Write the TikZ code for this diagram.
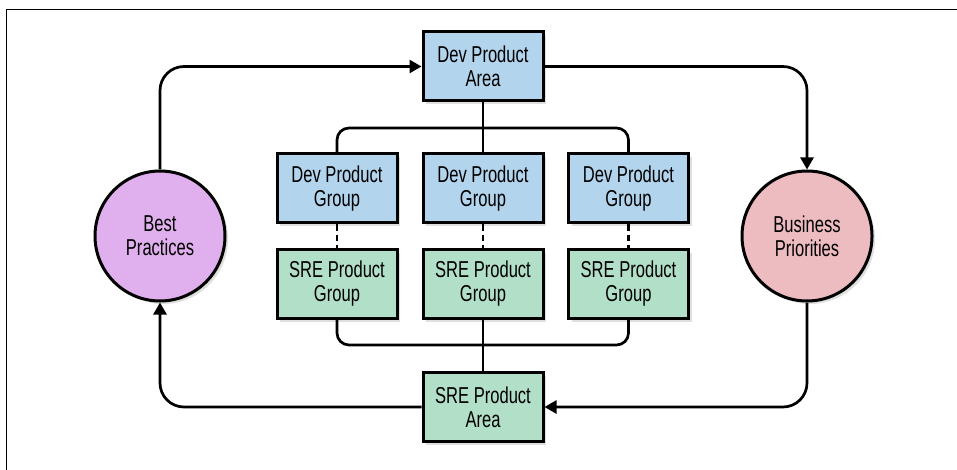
\documentclass[tikz,border=0pt]{standalone}
\usepackage{fontspec}
\newfontfamily\narrowfont{Liberation Sans}[FakeStretch=0.72]
\usetikzlibrary{arrows.meta,shadows}

\definecolor{devblue}{RGB}{178,212,236}
\definecolor{sregreen}{RGB}{178,223,200}
\definecolor{bestpurple}{RGB}{224,176,238}
\definecolor{bizpink}{RGB}{237,188,193}

\begin{document}
\begin{tikzpicture}[
  x=1pt, y=-1pt,
  box/.style={
    draw, line width=3pt, minimum width=120pt, minimum height=69pt,
    inner sep=0pt, align=center,
    font=\narrowfont\fontsize{23}{24}\selectfont,
    drop shadow={shadow xshift=3pt, shadow yshift=-3pt, opacity=0.25},
  },
  devbox/.style={box, fill=devblue},
  srebox/.style={box, fill=sregreen},
  bubble/.style={
    circle, draw, line width=3pt, minimum size=130pt, inner sep=0pt,
    align=center, font=\narrowfont\fontsize{23}{24}\selectfont,
    drop shadow={shadow xshift=3pt, shadow yshift=-3pt, opacity=0.25},
  },
  flow/.style={line width=2.7pt, rounded corners=24pt,
    -{Triangle[length=12pt,width=13pt]}},
  bus/.style={line width=2.7pt, rounded corners=12pt},
  link/.style={line width=2.7pt, dash pattern=on 6pt off 4pt},
]

% frame and canvas
\useasboundingbox (0,0) rectangle (957,470);
\draw[line width=1pt] (6,470) -- (6,9.5) -- (957,9.5);

% the two areas
\node[devbox] (devarea) at (483,66.5) {Dev Product\\Area};
\node[srebox] (srearea) at (483,407) {SRE Product\\Area};

% the loop ends
\node[bubble, fill=bestpurple] (best) at (160,236) {Best\\Practices};
\node[bubble, fill=bizpink]    (biz)  at (807,236) {Business\\Priorities};

% groups, dev over sre
\foreach \i/\x in {1/337,2/483,3/628.5} {
  \node[devbox] (dev\i) at (\x,188.5) {Dev Product\\Group};
  \node[srebox] (sre\i) at (\x,284)   {SRE Product\\Group};
  \draw[link] (dev\i) -- (sre\i);
}

% buses
\coordinate (topbus) at (483,128);
\coordinate (botbus) at (483,345);
\draw[bus] (dev1.north) |- (topbus) -| (dev3.north);
\draw[bus] (devarea.south) -- (dev2.north);
\draw[bus] (sre1.south) |- (botbus) -| (sre3.south);
\draw[bus] (sre2.south) -- (srearea.north);

% outer loop
\draw[flow] (best.north) |- (devarea.west);
\draw[flow] (devarea.east) -| (biz.north);
\draw[flow] (biz.south) |- (srearea.east);
\draw[flow] (srearea.west) -| (best.south);

\end{tikzpicture}
\end{document}
